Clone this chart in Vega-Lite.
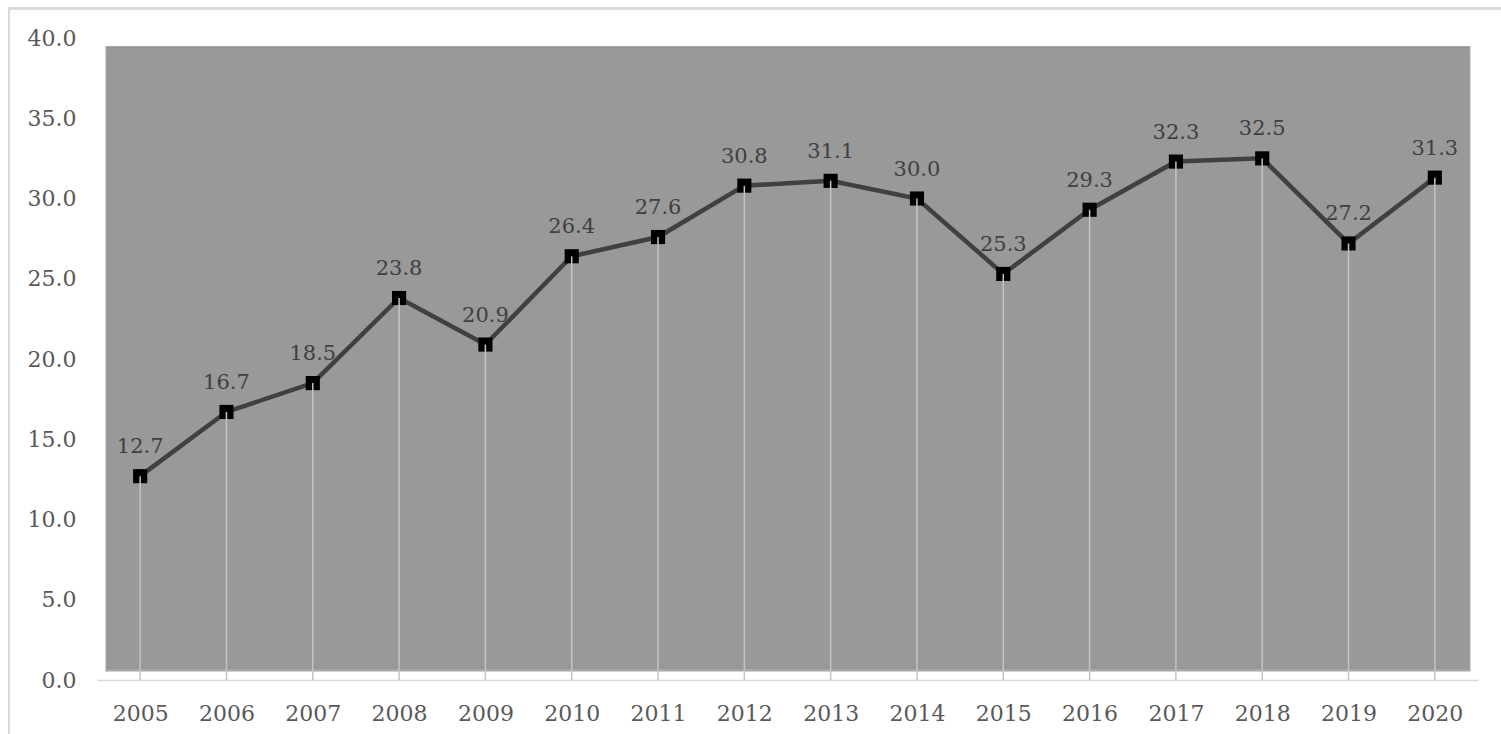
{
  "$schema": "https://vega.github.io/schema/vega-lite/v6.json",
  "width": 1381,
  "height": 642,
  "autosize": {"type": "none"},
  "padding": {"left": 97, "top": 38, "right": 23, "bottom": 54},
  "background": "white",
  "config": {"view": {"stroke": null}, "font": "DejaVu Serif"},
  "data": {"values": [
    {"year": 2005, "value": 12.7},
    {"year": 2006, "value": 16.7},
    {"year": 2007, "value": 18.5},
    {"year": 2008, "value": 23.8},
    {"year": 2009, "value": 20.9},
    {"year": 2010, "value": 26.4},
    {"year": 2011, "value": 27.6},
    {"year": 2012, "value": 30.8},
    {"year": 2013, "value": 31.1},
    {"year": 2014, "value": 30.0},
    {"year": 2015, "value": 25.3},
    {"year": 2016, "value": 29.3},
    {"year": 2017, "value": 32.3},
    {"year": 2018, "value": 32.5},
    {"year": 2019, "value": 27.2},
    {"year": 2020, "value": 31.3}
  ]},
  "layer": [
    {
      "mark": {"type": "rect", "fill": "#ffffff", "fillOpacity": 0, "stroke": "#d9d9d9", "strokeWidth": 1.5, "clip": false},
      "encoding": {
        "x": {"datum": 2003.48, "type": "quantitative", "scale": {"domain": [2004.5, 2020.5], "nice": false, "zero": false},
          "axis": {"values": [2005, 2006, 2007, 2008, 2009, 2010, 2011, 2012, 2013, 2014, 2015, 2016, 2017, 2018, 2019, 2020],
            "format": "d", "title": null, "grid": false, "ticks": false, "domainColor": "#d9d9d9", "domainWidth": 1.5,
            "labelFont": "DejaVu Serif", "labelFontSize": 22, "labelColor": "#595959", "labelPadding": 23, "labelFlush": false, "labelOverlap": false}},
        "x2": {"datum": 2022.5},
        "y": {"datum": 41.84, "type": "quantitative", "scale": {"domain": [0, 40], "nice": false, "zero": true},
          "axis": {"values": [0, 5, 10, 15, 20, 25, 30, 35, 40], "format": ".1f", "title": null, "grid": false, "ticks": false, "domain": false,
            "labelFont": "DejaVu Serif", "labelFontSize": 22, "labelColor": "#595959", "labelPadding": 21}},
        "y2": {"datum": -6}
      }
    },
    {
      "mark": {"type": "rect", "fill": "#999999", "opacity": 0.12},
      "encoding": {
        "x": {"datum": 2004.6, "type": "quantitative"},
        "x2": {"datum": 2020.41},
        "y": {"datum": 39.5, "type": "quantitative"},
        "y2": {"datum": 0.55}
      }
    },
    {
      "mark": {"type": "rect", "fill": "#999999", "opacity": 0.25},
      "encoding": {
        "x": {"datum": 2004.618, "type": "quantitative"},
        "x2": {"datum": 2020.39},
        "y": {"datum": 39.4, "type": "quantitative"},
        "y2": {"datum": 0.68}
      }
    },
    {
      "mark": {"type": "rect", "fill": "#999999", "opacity": 0.4},
      "encoding": {
        "x": {"datum": 2004.635, "type": "quantitative"},
        "x2": {"datum": 2020.37},
        "y": {"datum": 39.32, "type": "quantitative"},
        "y2": {"datum": 0.8}
      }
    },
    {
      "mark": {"type": "rect", "fill": "#999999"},
      "encoding": {
        "x": {"datum": 2004.651, "type": "quantitative"},
        "x2": {"datum": 2020.35},
        "y": {"datum": 39.25, "type": "quantitative"},
        "y2": {"datum": 0.93}
      }
    },
    {
      "mark": {"type": "line", "color": "#404040", "strokeWidth": 4.5},
      "encoding": {
        "x": {"field": "year", "type": "quantitative"},
        "y": {"field": "value", "type": "quantitative"}
      }
    },
    {
      "mark": {"type": "point", "shape": "square", "filled": true, "color": "#000000", "size": 200, "opacity": 1},
      "encoding": {
        "x": {"field": "year", "type": "quantitative"},
        "y": {"field": "value", "type": "quantitative"}
      }
    },
    {
      "mark": {"type": "rule", "color": "#c4c4c4", "strokeWidth": 1.5},
      "encoding": {
        "x": {"field": "year", "type": "quantitative"},
        "y": {"field": "value", "type": "quantitative"},
        "y2": {"datum": 0}
      }
    },
    {
      "mark": {"type": "text", "dy": -29, "fontSize": 21, "font": "DejaVu Serif", "color": "#404040", "align": "center", "baseline": "middle"},
      "encoding": {
        "x": {"field": "year", "type": "quantitative"},
        "y": {"field": "value", "type": "quantitative"},
        "text": {"field": "value", "type": "quantitative", "format": ".1f"}
      }
    }
  ]
}
